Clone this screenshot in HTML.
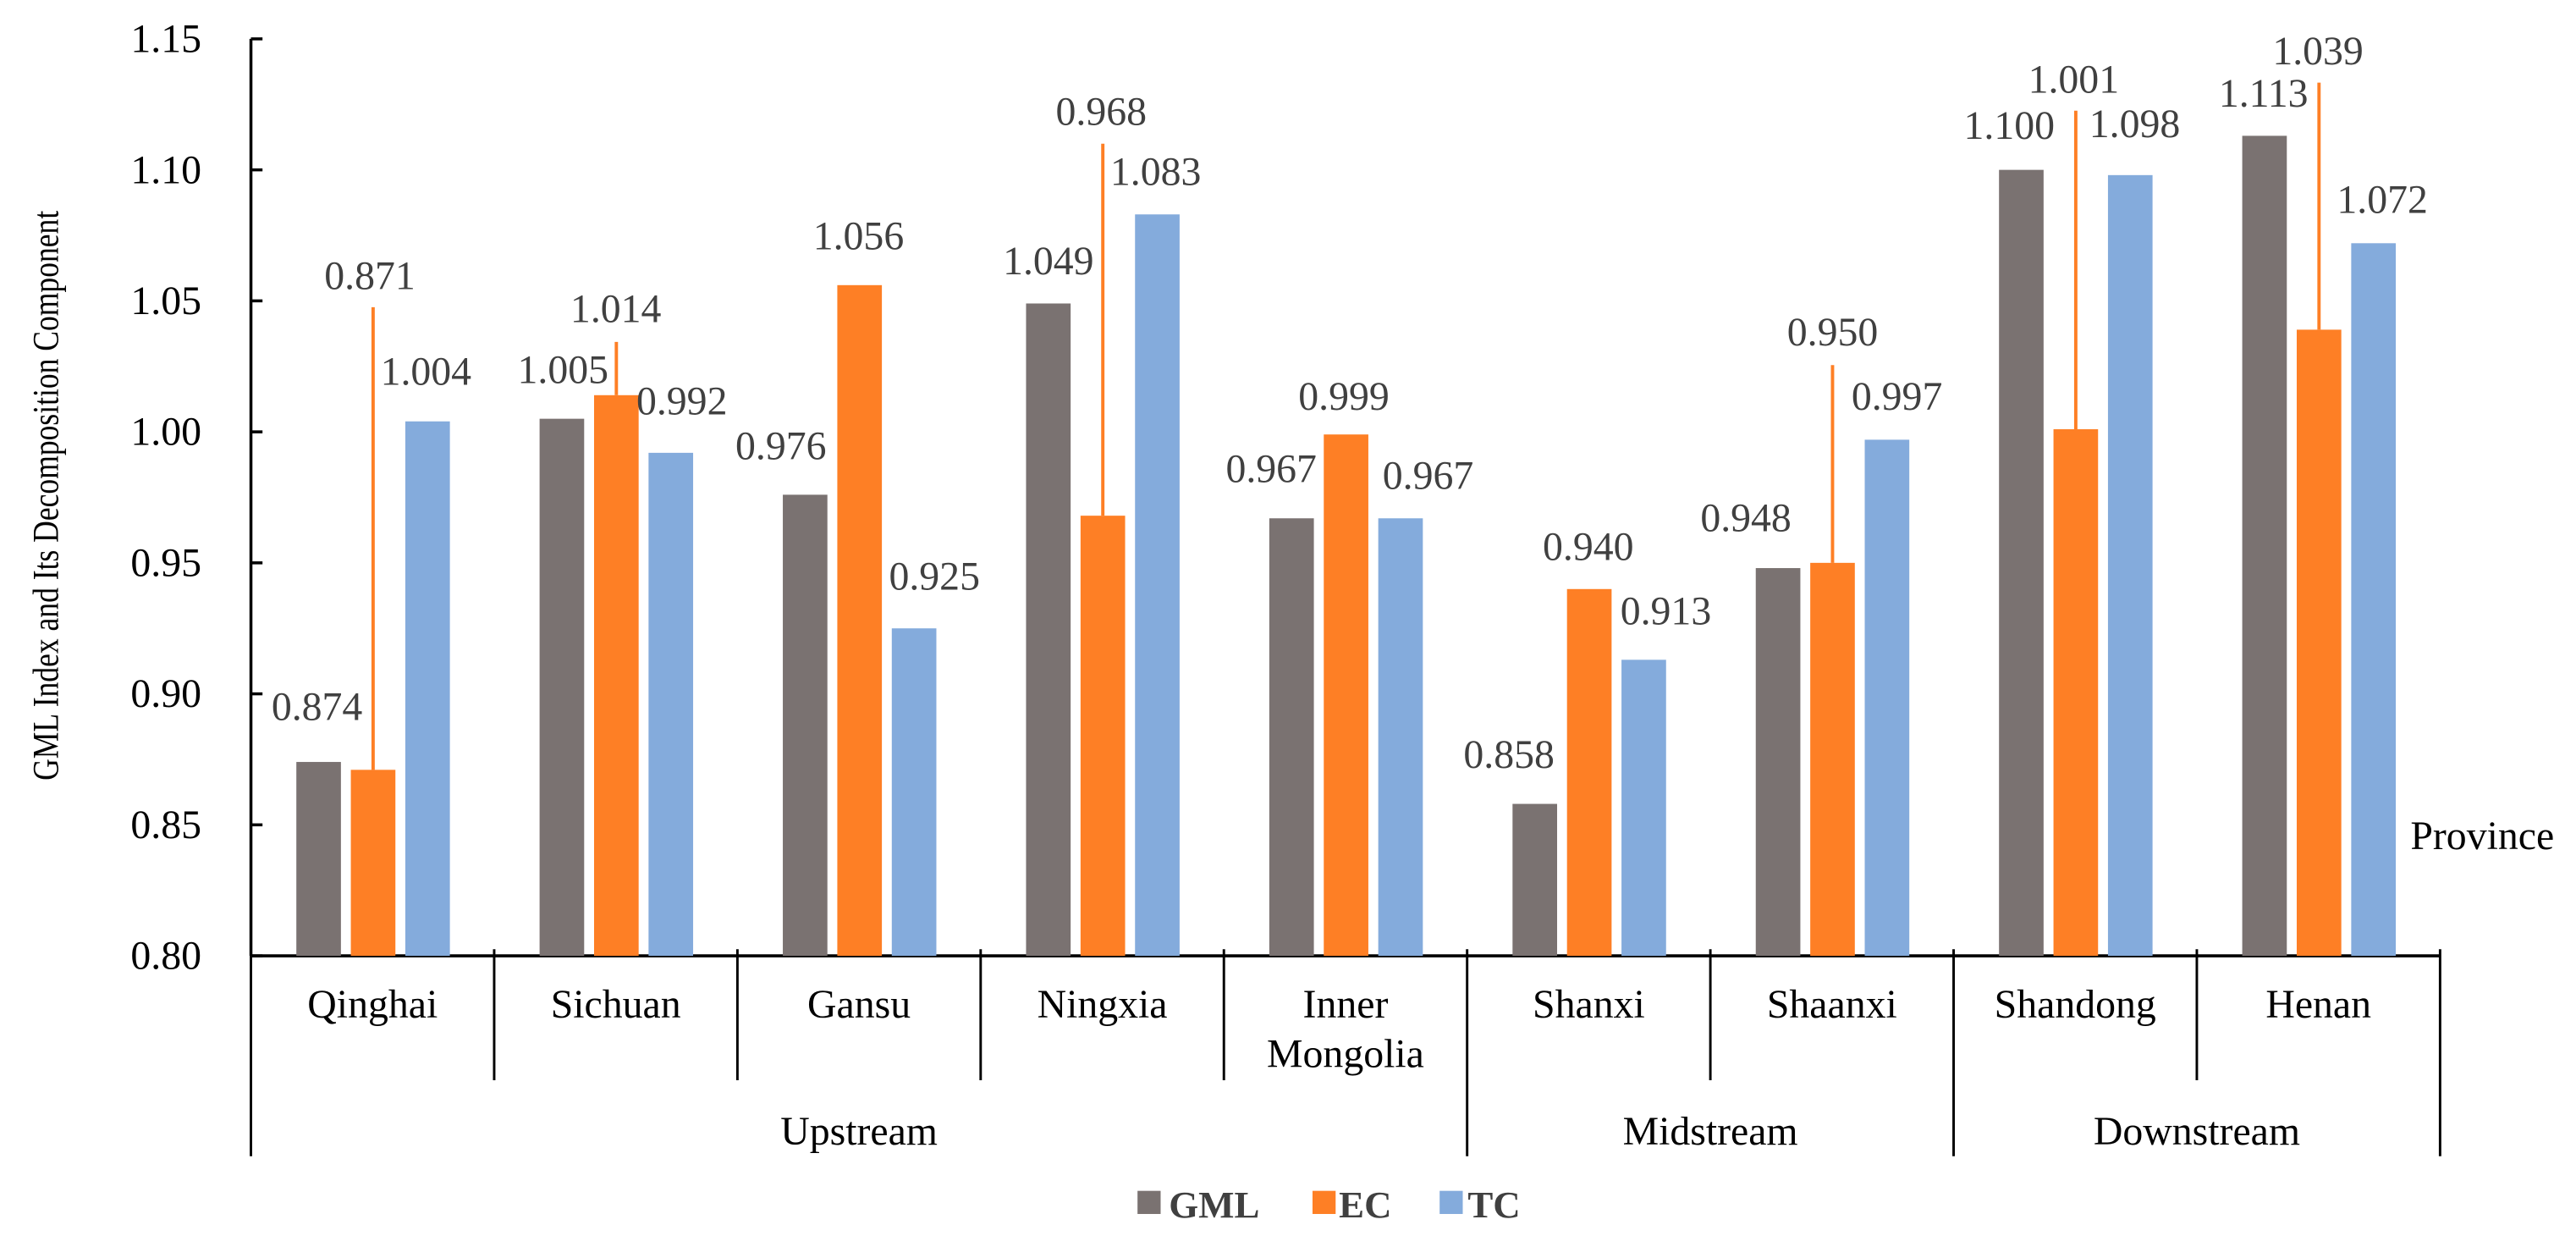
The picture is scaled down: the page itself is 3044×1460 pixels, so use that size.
<!DOCTYPE html>
<html><head><meta charset="utf-8"><style>
html,body{margin:0;padding:0;background:#fff;}
svg{display:block;font-family:"Liberation Serif","Times New Roman",serif;}
svg text{font-family:"Liberation Serif","Times New Roman",serif;}
</style></head><body>
<svg id="chart" width="3044" height="1460" viewBox="0 0 1560.3 748.3" font-family="Liberation Serif, serif" xmlns="http://www.w3.org/2000/svg">
<g id="axes"></g><g id="bars"></g><g id="labels"></g><g id="legend"></g>
</svg>
<script>
const categories = ["Qinghai","Sichuan","Gansu","Ningxia","Inner|Mongolia","Shanxi","Shaanxi","Shandong","Henan"];
const groups = ["Upstream","Midstream","Downstream"];
const groupSizes = [5,2,2];
const gmlValues = [0.874,1.005,0.976,1.049,0.967,0.858,0.948,1.100,1.113];
const ecValues = [0.871,1.014,1.056,0.968,0.999,0.940,0.950,1.001,1.039];
const tcValues = [1.004,0.992,0.925,1.083,0.967,0.913,0.997,1.098,1.072];
const yTicks = [0.80,0.85,0.90,0.95,1.00,1.05,1.10,1.15];
const seriesNames = ["GML","EC","TC"];

const colors = ["#7a7271","#fe7f25","#84abdc"];
const NS = "http://www.w3.org/2000/svg";
const FF = "Liberation Serif, Times New Roman, serif";
const x0 = 152, catW = 147.33, yTop = 23.5, yBot = 578.7, vMin = 0.80, vMax = 1.15;
const FS = 24.5;
function y(v){ return yBot - (v - vMin) / (vMax - vMin) * (yBot - yTop); }
function xCat(i){ return x0 + i * catW; }
function mk(tag, attrs, parent){ const e = document.createElementNS(NS, tag); for (const k in attrs) e.setAttribute(k, attrs[k]); if (tag === 'text') e.setAttribute('font-family', FF); parent.appendChild(e); return e; }
const axes = document.getElementById('axes'), bars = document.getElementById('bars'), labels = document.getElementById('labels'), legend = document.getElementById('legend');

// y axis
let ax = mk('line', {x1:x0, y1:yTop, x2:x0, y2:yBot, stroke:'#000', 'stroke-width':1.8}, axes);


yTicks.forEach(t => {
  const tk = mk('line', {x1:x0, y1:y(t), x2:x0+7, y2:y(t), stroke:'#000', 'stroke-width':1.8}, axes);
  
  
  const tl = mk('text', {x:122, y:y(t)+8, 'text-anchor':'end', 'font-size':FS, fill:'#000'}, axes);
  tl.textContent = t.toFixed(2);
  
  
});
const yt = mk('text', {x:0, y:0, transform:'translate(35,300) rotate(-90)', 'text-anchor':'middle', 'font-size':22, fill:'#000', textLength:345, lengthAdjust:'spacingAndGlyphs'}, axes);
yt.textContent = 'GML Index and Its Decomposition  Component';



// x axis
const xEnd = xCat(categories.length);
ax = mk('line', {x1:x0, y1:yBot, x2:xEnd, y2:yBot, stroke:'#000', 'stroke-width':1.8}, axes);


const groupBounds = [0]; groupSizes.reduce((a, s) => { groupBounds.push(a + s); return a + s; }, 0);
for (let i = 0; i <= categories.length; i++) {
  const long = groupBounds.includes(i);
  const l = mk('line', {x1:xCat(i), y1:yBot-4, x2:xCat(i), y2:long ? 700 : 654, stroke:'#000', 'stroke-width':1.5}, axes);
  
  
}
categories.forEach((c, i) => {
  c.split('|').forEach((part, j) => {
    const t = mk('text', {x:xCat(i)+catW/2, y:616 + j*30, 'text-anchor':'middle', 'font-size':FS, fill:'#000'}, axes);
    t.textContent = part;
    
    
  });
});
groups.forEach((g, k) => {
  const cx = (xCat(groupBounds[k]) + xCat(groupBounds[k+1])) / 2;
  const t = mk('text', {x:cx, y:693, 'text-anchor':'middle', 'font-size':FS, fill:'#000'}, axes);
  t.textContent = g;
  
  
});
const pv = mk('text', {x:1460, y:514, 'font-size':FS, fill:'#000'}, axes);
pv.textContent = 'Province';



// label layout (positions only: center x, center y, optional leader top y)
const labelPos = [
 [[192,428],[224,167,186],[258,225]],
 [[341,224],[373,187,207],[413,243]],
 [[473,270],[520,143],[566,349]],
 [[635,158],[667,67.5,87],[700,104]],
 [[770,284],[814,240],[865,288]],
 [[914,457],[962,331],[1009,370]],
 [[1057.5,313.5],[1110,201,221],[1149,240]],
 [[1217,76],[1256,48,67],[1293,75]],
 [[1371,56.5],[1404,31,50],[1443,121]]
];
const series = [gmlValues, ecValues, tcValues];
const barOff = [27.5, 60.5, 93.5], barW = 27;
const barNames = ['bar-gml','bar-ec','bar-tc'];
series.forEach((vals, s) => {
  vals.forEach((v, i) => {
    const bx = xCat(i) + barOff[s];
    const r = mk('rect', {x:bx, y:y(v), width:barW, height:yBot - y(v), fill:colors[s]}, bars);
    
    
    const p = labelPos[i][s];
    if (p.length > 2) {
      const ln = mk('line', {x1:bx+barW/2, y1:y(v), x2:bx+barW/2, y2:p[2], stroke:colors[1], 'stroke-width':2}, labels);
      
      
    }
    const t = mk('text', {x:p[0], y:p[1]+8, 'text-anchor':'middle', 'font-size':FS, fill:'#404040'}, labels);
    t.textContent = v.toFixed(3);
    
    
  });
});

// legend
const legX = [689, 795, 872];
const legT = [708, 811, 889];
seriesNames.forEach((n, s) => {
  const sw = mk('rect', {x:legX[s], y:721, width:14, height:14, fill:colors[s]}, legend);
  
  
  const t = mk('text', {x:legT[s], y:737, 'font-size':23, 'font-weight':'bold', fill:'#404040'}, legend);
  t.textContent = n;
  
  
});
</script>
</body></html>
